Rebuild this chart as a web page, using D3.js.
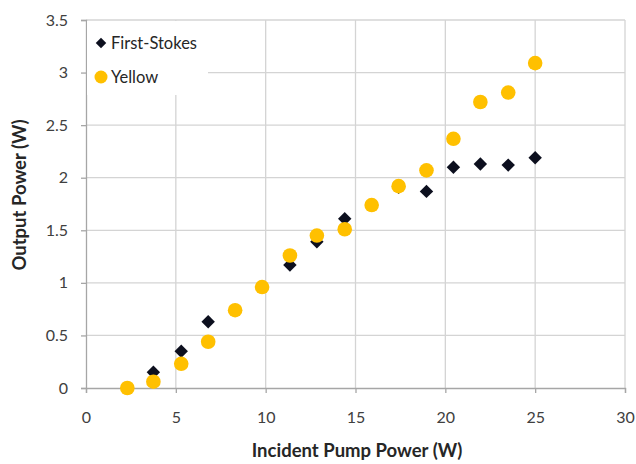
<!DOCTYPE html>
<html><head><meta charset="utf-8">
<script src="https://cdn.jsdelivr.net/npm/d3@7"></script>
<style>body{margin:0;background:#fff}</style>
</head><body>
<svg id="c" width="636" height="464"></svg>
<script>
const pumpPower = [2.3, 3.75, 5.3, 6.8, 8.3, 9.8, 11.35, 12.85, 14.4, 15.9, 17.4, 18.95, 20.45, 21.95, 23.5, 25.0];
const firstStokes = [0.0, 0.15, 0.35, 0.63, 0.74, 0.96, 1.17, 1.39, 1.61, 1.74, 1.91, 1.87, 2.10, 2.13, 2.12, 2.19];
const yellow = [0.0, 0.06, 0.23, 0.44, 0.74, 0.96, 1.26, 1.45, 1.51, 1.74, 1.92, 2.07, 2.37, 2.72, 2.81, 3.09];
const xTicks = [0, 5, 10, 15, 20, 25, 30];
const yTicks = [0, 0.5, 1, 1.5, 2, 2.5, 3, 3.5];
const seriesNames = ["First-Stokes", "Yellow"];

const svg = d3.select("#c");
const font = "Lato, 'Open Sans', sans-serif";
const x = d3.scaleLinear().domain([0, 30]).range([86, 625]);
const y = d3.scaleLinear().domain([0, 3.5]).range([388, 20]);

// gridlines
svg.append("g").selectAll("line").data(xTicks.slice(1)).join("line")
  .attr("x1", d => x(d)).attr("x2", d => x(d)).attr("y1", y(0)).attr("y2", y(3.5))
  .attr("stroke", "#d4d4d4").attr("stroke-width", 1.3);
svg.append("g").selectAll("line").data(yTicks.slice(1)).join("line")
  .attr("x1", x(0)).attr("x2", x(30)).attr("y1", d => y(d)).attr("y2", d => y(d))
  .attr("stroke", "#d4d4d4").attr("stroke-width", 1.3);

// axes
const xAxis = svg.append("g").attr("transform", `translate(0,${y(0)})`)
  .call(d3.axisBottom(x).tickValues(xTicks).tickSize(5).tickPadding(19).tickFormat(d3.format("d")));
const yAxis = svg.append("g").attr("transform", `translate(${x(0)},0)`)
  .call(d3.axisLeft(y).tickValues(yTicks).tickSize(5).tickPadding(13).tickFormat(d => String(d)));
[xAxis, yAxis].forEach(g => {
  g.select(".domain").attr("stroke", "#a6a6a6").attr("stroke-width", 1.3);
  g.selectAll(".tick line").attr("stroke", "#a6a6a6").attr("stroke-width", 1.3);
  g.selectAll(".tick text").attr("fill", "#404040").style("font-family", font).style("font-size", "16px");
});

// legend box (covers gridlines)
svg.append("rect").attr("x", x(0) + 1).attr("y", y(3.5) + 1).attr("width", 121).attr("height", 74).attr("fill", "#fff");

// series
svg.append("g").selectAll("path").data(pumpPower.map((p, i) => [p, firstStokes[i]])).join("path")
  .attr("d", d3.symbol().type(d3.symbolSquare).size(90))
  .attr("transform", d => `translate(${x(d[0])},${y(d[1])}) rotate(45)`)
  .attr("fill", "#0c0f1e");
svg.append("g").selectAll("circle").data(pumpPower.map((p, i) => [p, yellow[i]])).join("circle")
  .attr("cx", d => x(d[0])).attr("cy", d => y(d[1])).attr("r", 7.3)
  .attr("fill", "#ffc000");

// legend
const lg = svg.append("g");
lg.append("path").attr("d", d3.symbol().type(d3.symbolSquare).size(55)())
  .attr("transform", "translate(101,43) rotate(45)").attr("fill", "#0c0f1e");
lg.append("circle").attr("cx", 101).attr("cy", 77).attr("r", 6.5).attr("fill", "#ffc000");
lg.selectAll("text").data(seriesNames).join("text")
  .attr("x", 111).attr("y", (d, i) => 43 + i * 34).attr("dy", "0.35em")
  .style("font-family", font).style("font-size", "16.5px").attr("fill", "#262626").text(d => d);

// axis titles
svg.append("text").attr("x", 357).attr("y", 457).attr("text-anchor", "middle")
  .style("font-family", font).style("font-size", "18.5px").style("font-weight", "bold").attr("fill", "#262626")
  .text("Incident Pump Power (W)");
svg.append("text").attr("transform", "translate(26,195) rotate(-90)").attr("text-anchor", "middle")
  .style("font-family", font).style("font-size", "18.5px").style("font-weight", "bold").attr("fill", "#262626")
  .text("Output Power (W)");
</script>
</body></html>
